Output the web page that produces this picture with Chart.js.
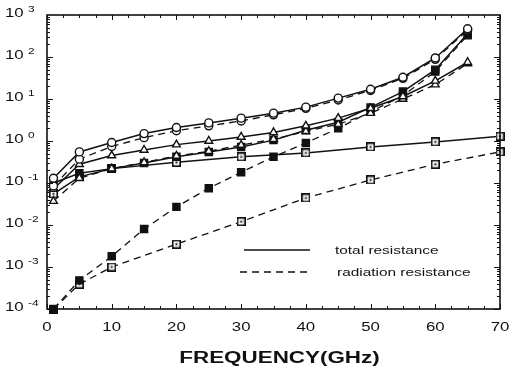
<!DOCTYPE html>
<html>
<head>
<meta charset="utf-8">
<script src="https://cdn.jsdelivr.net/npm/chart.js@4.4.0/dist/chart.umd.min.js"></script>
<style>
    html, body { margin: 0; padding: 0; background: #fff; }
    #wrap { width: 512px; height: 371px; }
</style>
</head>
<body>
<div id="wrap"><canvas id="resGraph" width="512" height="371"></canvas></div>
<script>
// frequencies (GHz)
const freq = [1, 5, 10, 15, 20, 25, 30, 35, 40, 45, 50, 55, 60, 65];
const freqWide = [1, 5, 10, 20, 30, 40, 50, 60, 70];

// resistance values
const circleTotal = [0.13, 0.55, 0.92, 1.5, 2.1, 2.7, 3.5, 4.6, 6.4, 10.5, 17, 33, 95, 470];
const circleRad = [0.085, 0.37, 0.74, 1.2, 1.75, 2.3, 3.0, 4.2, 6.0, 9.5, 16, 31, 88, 440];
const triTotal = [0.072, 0.28, 0.45, 0.61, 0.82, 1.0, 1.25, 1.6, 2.3, 3.5, 6.0, 11.5, 27, 75];
const triRad = [0.037, 0.13, 0.22, 0.31, 0.44, 0.57, 0.8, 1.1, 1.7, 2.5, 4.6, 10, 22, 70];
const fsqTotal = [0.1, 0.17, 0.22, 0.3, 0.42, 0.55, 0.72, 1.05, 1.8, 2.8, 6.3, 15, 50, 360];
const fsqRad = [0.0001, 0.00048, 0.0018, 0.008, 0.027, 0.075, 0.18, 0.42, 0.9, 2.0, 5.0, 12, 45, 330];
const osqTotal = [0.055, 0.14, 0.22, 0.31, 0.42, 0.52, 0.72, 0.95, 1.3];
const osqRad = [0.0001, 0.00039, 0.001, 0.0035, 0.012, 0.044, 0.118, 0.28, 0.55];

// axis labels
const xTicks = [0, 10, 20, 30, 40, 50, 60, 70];
const yExponents = [-4, -3, -2, -1, 0, 1, 2, 3];
const xTitle = 'FREQUENCY(GHz)';
const legendLabels = ['total resistance', 'radiation resistance'];

const ink = '#111';
const stretch = 1.4;

function toPoints(xs, ys) {
    return xs.map(function (x, i) { return {x: x, y: ys[i]}; });
}

// open square with a dot in the middle
function dotSquare() {
    let c = document.createElement('canvas');
    c.width = 9; c.height = 9;
    let g = c.getContext('2d');
    g.fillStyle = '#fff';
    g.fillRect(0, 0, 9, 9);
    g.strokeStyle = ink;
    g.lineWidth = 1.6;
    g.strokeRect(0.8, 0.8, 7.4, 7.4);
    g.fillStyle = ink;
    g.fillRect(3.5, 3.5, 2, 2);
    return c;
}
const dotSq = dotSquare();

function series(xs, ys, dashed, style, radius, fill) {
    return {
        data: toPoints(xs, ys),
        borderColor: ink,
        borderWidth: dashed ? 1.3 : 1.5,
        borderDash: dashed ? [7, 5] : [],
        pointStyle: style,
        pointRadius: radius,
        pointBackgroundColor: fill,
        pointBorderColor: ink,
        pointBorderWidth: 1.4,
        tension: 0,
        clip: false,
    };
}

function stretchText(ctx, txt, x, y, font, align) {
    ctx.save();
    ctx.font = font;
    ctx.translate(x, y);
    ctx.scale(stretch, 1);
    ctx.textAlign = align;
    ctx.textBaseline = 'alphabetic';
    ctx.fillText(txt, 0, 0);
    ctx.restore();
}

const frameAndText = {
    id: 'frameAndText',
    afterDraw: function (chart) {
        const ctx = chart.ctx;
        const xs = chart.scales.x, ys = chart.scales.y;
        const a = chart.chartArea;
        ctx.save();
        ctx.strokeStyle = ink;
        ctx.fillStyle = ink;
        ctx.lineWidth = 1.6;
        ctx.strokeRect(a.left, a.top, a.right - a.left, a.bottom - a.top);

        // inward tick marks
        ctx.lineWidth = 1;
        ctx.beginPath();
        for (let f = 0; f <= 70; f += 2.5) {
            let px = Math.round(xs.getPixelForValue(f)) + 0.5;
            let len = f % 10 === 0 ? 5 : 3;
            ctx.moveTo(px, a.bottom); ctx.lineTo(px, a.bottom - len);
            ctx.moveTo(px, a.top); ctx.lineTo(px, a.top + len);
        }
        for (let e = -4; e < 3; e++) {
            for (let k = 1; k < 10; k++) {
                let py = Math.round(ys.getPixelForValue(k * Math.pow(10, e))) + 0.5;
                let len = k === 1 ? 6 : 3;
                ctx.moveTo(a.left, py); ctx.lineTo(a.left + len, py);
                ctx.moveTo(a.right, py); ctx.lineTo(a.right - len, py);
            }
        }
        ctx.stroke();

        // x tick labels and title
        xTicks.forEach(function (v) {
            stretchText(ctx, String(v), xs.getPixelForValue(v), 331, '12px "Liberation Sans"', 'center');
        });
        stretchText(ctx, xTitle, (a.left + a.right) / 2 + 6, 363, 'bold 16px "Liberation Sans"', 'center');

        // y tick labels 10^n
        yExponents.forEach(function (e) {
            let py = ys.getPixelForValue(Math.pow(10, e));
            stretchText(ctx, '10', 5, py + 2, '12px "Liberation Sans"', 'left');
            stretchText(ctx, String(e), 28, py - 3, '8.5px "Liberation Sans"', 'left');
        });

        // legend inside the plot
        ctx.lineWidth = 1.4;
        ctx.beginPath();
        ctx.moveTo(244, 250); ctx.lineTo(310, 250);
        ctx.stroke();
        ctx.setLineDash([7, 5]);
        ctx.beginPath();
        ctx.moveTo(240, 272); ctx.lineTo(308, 272);
        ctx.stroke();
        ctx.setLineDash([]);
        stretchText(ctx, legendLabels[0], 335, 254, '11px "Liberation Sans"', 'left');
        stretchText(ctx, legendLabels[1], 337, 276, '11px "Liberation Sans"', 'left');
        ctx.restore();
    }
};

const config = {
    type: 'line',
    data: {
        datasets: [
            series(freq, circleTotal, false, 'circle', 4, '#fff'),
            series(freq, circleRad, true, 'circle', 4, '#fff'),
            series(freq, triTotal, false, 'triangle', 4.5, '#fff'),
            series(freq, triRad, true, 'triangle', 4.5, '#fff'),
            series(freq, fsqTotal, false, 'rect', 5, ink),
            series(freq, fsqRad, true, 'rect', 5, ink),
            series(freqWide, osqTotal, false, dotSq, 4, '#fff'),
            series(freqWide, osqRad, true, dotSq, 4, '#fff'),
        ]
    },
    plugins: [frameAndText],
    options: {
        responsive: false,
        animation: false,
        devicePixelRatio: 1,
        layout: {
            padding: {left: 0, right: 12, top: 15, bottom: 0}
        },
        plugins: {
            legend: {display: false},
            tooltip: {enabled: false},
        },
        scales: {
            x: {
                type: 'linear',
                min: 0,
                max: 70,
                ticks: {display: false},
                grid: {display: false},
                border: {display: false},
                afterFit: function (scale) { scale.height = 62; },
            },
            y: {
                type: 'logarithmic',
                min: 1e-4,
                max: 1e3,
                ticks: {display: false},
                grid: {display: false},
                border: {display: false},
                afterFit: function (scale) { scale.width = 47; },
            },
        }
    }
};

let myResChart = new Chart(document.getElementById('resGraph'), config);
</script>
</body>
</html>
